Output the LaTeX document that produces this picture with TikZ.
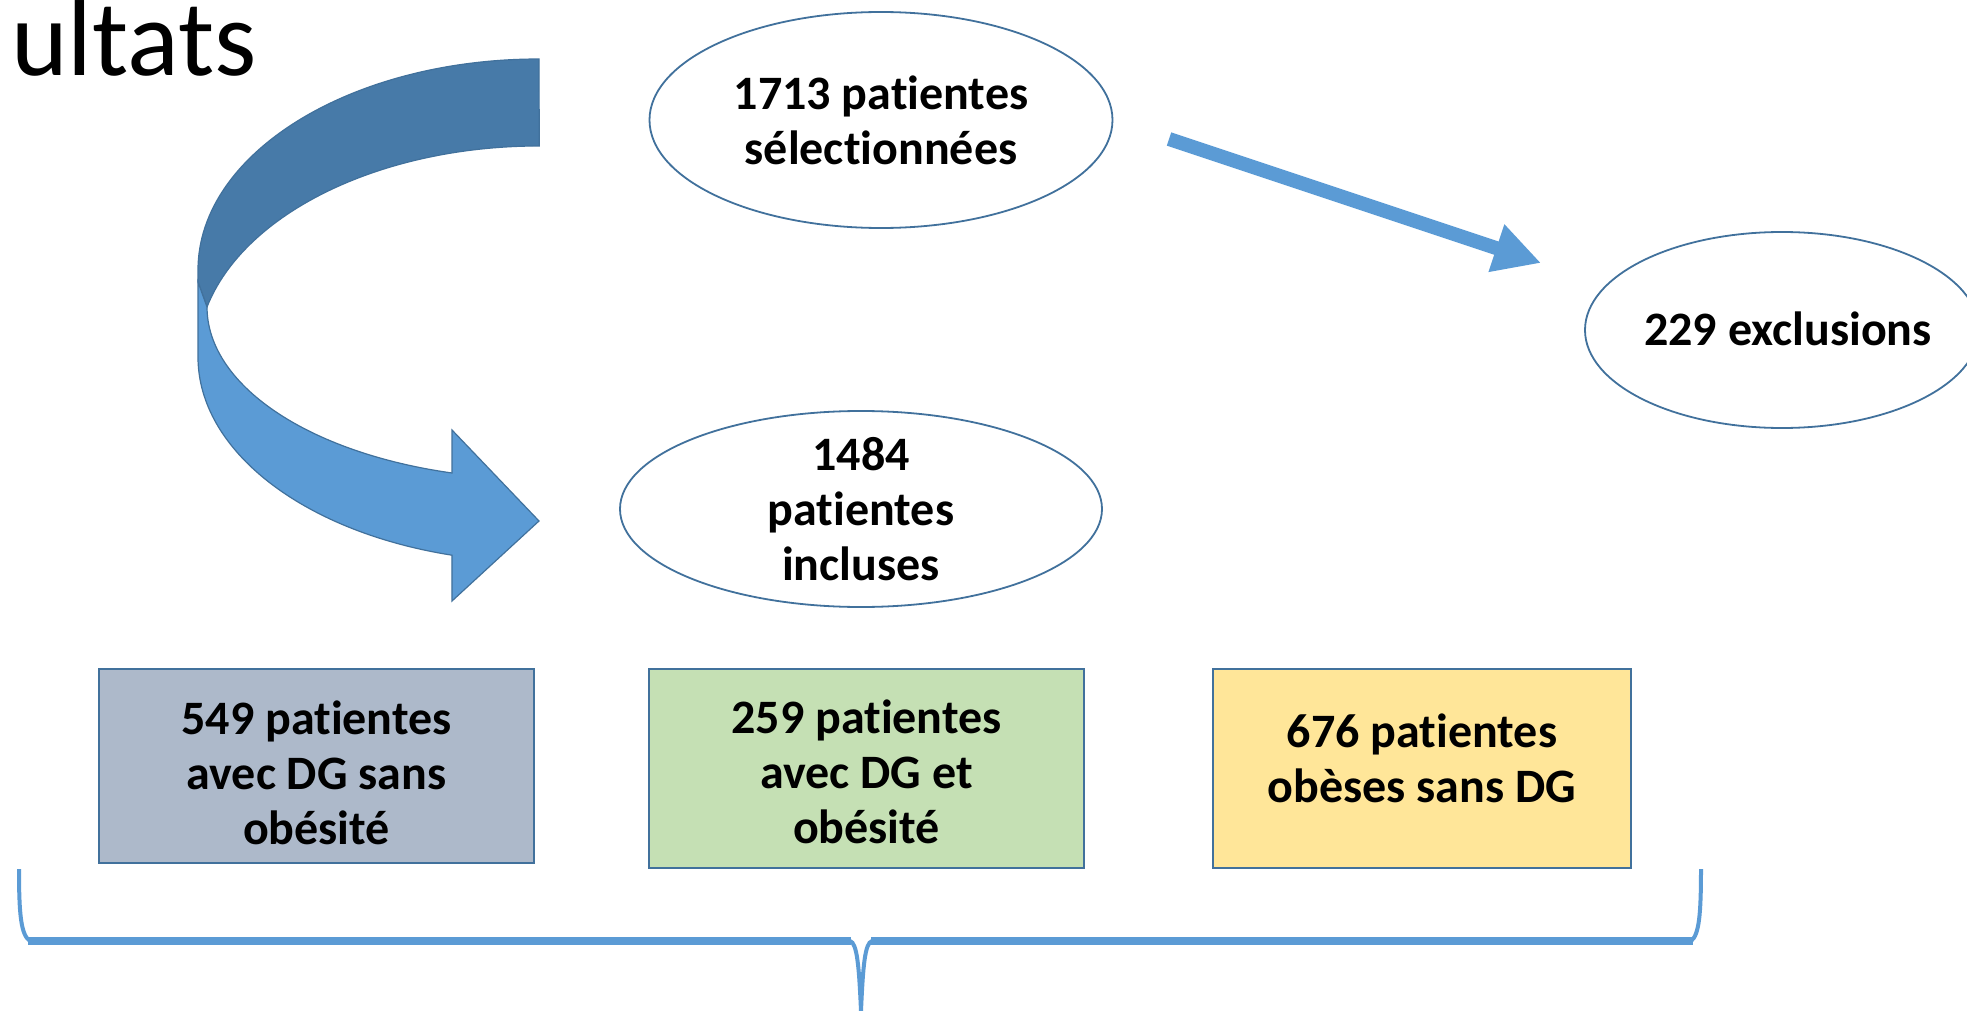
\documentclass[tikz,border=0pt]{standalone}
\usepackage{fontspec}
\setmainfont{Carlito}[Ligatures=NoCommon]
\usetikzlibrary{shapes.geometric,arrows.meta}
\definecolor{accent}{HTML}{5B9BD5}
\definecolor{accdark}{HTML}{477AA8}
\definecolor{edgeblue}{HTML}{41719C}
\definecolor{boxgray}{HTML}{ADB9CA}
\definecolor{boxgreen}{HTML}{C5E0B4}
\definecolor{boxyellow}{HTML}{FFE699}
\begin{document}
\begin{tikzpicture}[x=0.5pt,y=-0.5pt,
  lbl/.style={font=\fontsize{24}{27.5}\selectfont\bfseries, align=center, text=black, inner sep=0pt},
  oval/.style={ellipse, draw=edgeblue, line width=0.9pt, fill=white, inner sep=0pt},
  grpbox/.style={rectangle, draw=edgeblue, line width=1pt},
  bandedge/.style={draw=edgeblue, line width=0.6pt},
  thinarrow/.style={draw=accent, line width=7pt, -{Triangle[length=23.5pt,width=23.5pt]}},
  bracepath/.style={draw=accent}]
\useasboundingbox (0,0) rectangle (1967,1011);
\fill[white] (0,0) rectangle (1967,1011);

% title fragment
\node[font=\fontsize{54}{65}\selectfont, anchor=base east, inner sep=0pt] (title) at (257,76) {ultats};

% curved arrow: back (dark) band
\filldraw[fill=accdark, bandedge] (539,59)
  arc[start angle=90, end angle=180, x radius=170.5pt, y radius=105.5pt]
  -- (198,282) -- (207,307)
  arc[start angle=166.3, end angle=90, x radius=171pt, y radius=105.5pt]
  -- cycle;
% curved arrow: front (light) band with head
\filldraw[fill=accent, bandedge] (198,282) -- (198,357)
  arc[start angle=180, end angle=255.2, x radius=170.5pt, y radius=102.5pt]
  -- (452,601) -- (539,521) -- (452,430) -- (452,473)
  arc[start angle=254.8, end angle=180, x radius=166pt, y radius=86pt]
  -- cycle;

% ellipses
\node[oval, minimum width=231.5pt, minimum height=108pt] (e1) at (881,120) {};
\node[lbl] (t1) at (e1.center) {1713 patientes\\sélectionnées};
\node[oval, minimum width=241pt, minimum height=98pt] (e2) at (861,509) {};
\node[lbl] (t2) at (e2.center) {1484\\patientes\\incluses};
\node[oval, minimum width=197pt, minimum height=98pt] (e3) at (1782,330) {};
\node[lbl] (t3) at (1788,329) {229 exclusions};

% straight arrow to exclusions
\coordinate (as) at (1169,139);
\coordinate (ae) at (1541,263);
\draw[thinarrow] (as) -- (ae);

% group boxes
\node[grpbox, fill=boxgray, minimum width=217.5pt, minimum height=97pt] (b1) at (316.5,766) {};
\node[lbl] (tb1) at (316.5,773) {549 patientes\\avec DG sans\\obésité};
\node[grpbox, fill=boxgreen, minimum width=217.5pt, minimum height=99.5pt] (b2) at (866.5,768.5) {};
\node[lbl] (tb2) at (866.5,772) {259 patientes\\avec DG et\\obésité};
\node[grpbox, fill=boxyellow, minimum width=209pt, minimum height=99.5pt] (b3) at (1422,768.5) {};
\node[lbl] (tb3) at (1422,758) {676 patientes\\obèses sans DG};

% brace
\draw[bracepath, line width=2pt] (19,869) .. controls (19,915) and (21,935) .. (30,941)
  -- (850,941) .. controls (857,943) and (859,965) .. (861,1011)
  .. controls (863,965) and (865,943) .. (872,941)
  -- (1691,941) .. controls (1699,935) and (1701,915) .. (1701,869);
\draw[bracepath, line width=4pt] (28,941) -- (851,941) (871,941) -- (1693,941);
\end{tikzpicture}
\end{document}
